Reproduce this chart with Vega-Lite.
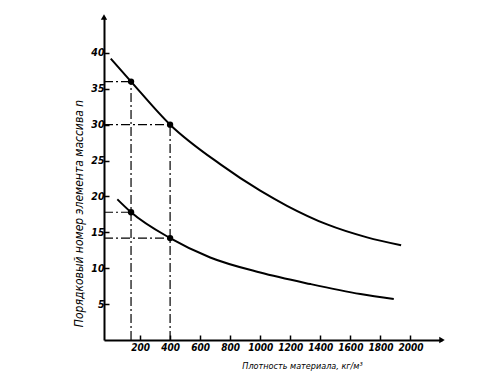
{
  "$schema": "https://vega.github.io/schema/vega-lite/v6.json",
  "autosize": {"type": "none"},
  "padding": {"left": 104, "top": 17, "right": 53, "bottom": 35},
  "width": 338,
  "height": 323,
  "background": "white",
  "config": {
    "view": {"stroke": null},
    "axis": {"grid": false, "domainColor": "black", "domainWidth": 2, "tickColor": "black", "tickWidth": 1.5, "labelColor": "black", "titleColor": "black", "labelFont": "DejaVu Sans Condensed", "titleFont": "DejaVu Sans Condensed", "labelFontStyle": "italic", "labelFontWeight": "bold", "titleFontStyle": "italic", "titleFontWeight": "normal"}
  },
  "datasets": {
    "curves": [
      {"density": 5, "n": 39.2, "curve": "upper"},
      {"density": 140, "n": 36, "curve": "upper"},
      {"density": 400, "n": 30, "curve": "upper"},
      {"density": 733, "n": 24.5, "curve": "upper"},
      {"density": 1000, "n": 20.8, "curve": "upper"},
      {"density": 1178, "n": 18.7, "curve": "upper"},
      {"density": 1445, "n": 16.1, "curve": "upper"},
      {"density": 1711, "n": 14.3, "curve": "upper"},
      {"density": 1938, "n": 13.2, "curve": "upper"},
      {"density": 49, "n": 19.6, "curve": "lower"},
      {"density": 140, "n": 17.8, "curve": "lower"},
      {"density": 400, "n": 14.2, "curve": "lower"},
      {"density": 667, "n": 11.5, "curve": "lower"},
      {"density": 1000, "n": 9.4, "curve": "lower"},
      {"density": 1333, "n": 7.8, "curve": "lower"},
      {"density": 1667, "n": 6.4, "curve": "lower"},
      {"density": 1889, "n": 5.7, "curve": "lower"}
    ],
    "marked": [
      {"density": 140, "n": 36},
      {"density": 400, "n": 30},
      {"density": 140, "n": 17.8},
      {"density": 400, "n": 14.2}
    ],
    "guides": [
      {"x": -40, "x2": 140, "y": 36, "y2": 36},
      {"x": -40, "x2": 400, "y": 30, "y2": 30},
      {"x": -40, "x2": 140, "y": 17.8, "y2": 17.8},
      {"x": -40, "x2": 400, "y": 14.2, "y2": 14.2},
      {"x": 140, "x2": 140, "y": 0, "y2": 36},
      {"x": 400, "x2": 400, "y": 0, "y2": 30}
    ],
    "arrowY": [{"x": -40, "y": 45}],
    "arrowX": [{"x": 2210, "y": 0}]
  },
  "encoding": {
    "x": {"type": "quantitative", "scale": {"domain": [-40, 2210], "nice": false, "zero": false},
      "axis": {"values": [200, 400, 600, 800, 1000, 1200, 1400, 1600, 1800, 2000], "format": "d", "labelOverlap": false, "labelSeparation": 0, "labelFlush": false, "tickSize": -5, "labelPadding": 7, "labelFontSize": 10,
        "title": "Плотность материала, кг/м³", "titleFontSize": 9, "titleX": 198, "titleY": 25, "titleAnchor": null, "titleBaseline": "middle", "titleAlign": "center"}},
    "y": {"type": "quantitative", "scale": {"domain": [0, 45], "nice": false},
      "axis": {"values": [5, 10, 15, 20, 25, 30, 35, 40], "format": "d", "labelOverlap": false, "tickSize": -5, "labelPadding": 5, "labelFontSize": 10.5,
        "title": "Порядковый номер элемента массива n", "titleFontSize": 12, "titleAngle": -90, "titleX": -26, "titleY": 196, "titleAlign": "center", "titleBaseline": "middle"}}
  },
  "layer": [
    {
      "data": {"name": "guides"},
      "mark": {"type": "rule", "color": "black", "strokeWidth": 1.2, "strokeDash": [9, 3, 2, 3]},
      "encoding": {
        "x": {"field": "x"},
        "x2": {"field": "x2"},
        "y": {"field": "y"},
        "y2": {"field": "y2"}
      }
    },
    {
      "data": {"name": "curves"},
      "mark": {"type": "line", "color": "black", "strokeWidth": 2, "interpolate": "monotone"},
      "encoding": {
        "x": {"field": "density"},
        "y": {"field": "n"},
        "detail": {"field": "curve"}
      }
    },
    {
      "data": {"name": "marked"},
      "mark": {"type": "circle", "color": "black", "opacity": 1, "size": 40},
      "encoding": {
        "x": {"field": "density"},
        "y": {"field": "n"}
      }
    },
    {
      "data": {"name": "arrowY"},
      "mark": {"type": "point", "shape": "triangle-up", "filled": true, "color": "black", "opacity": 1, "size": 40},
      "encoding": {
        "x": {"field": "x"},
        "y": {"field": "y"}
      }
    },
    {
      "data": {"name": "arrowX"},
      "mark": {"type": "point", "shape": "triangle-right", "filled": true, "color": "black", "opacity": 1, "size": 40},
      "encoding": {
        "x": {"field": "x"},
        "y": {"field": "y"}
      }
    }
  ]
}
